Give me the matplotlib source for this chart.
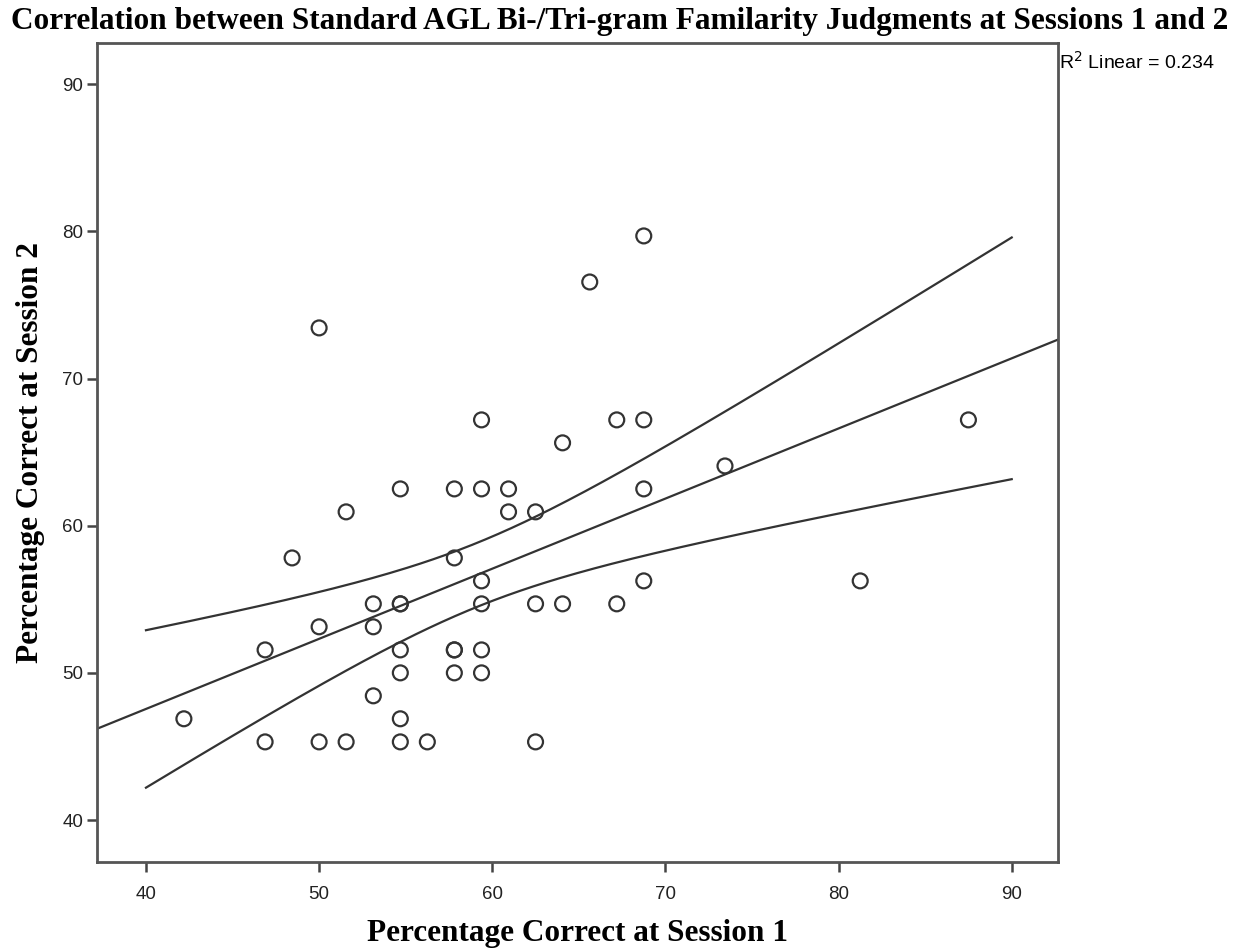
import numpy as np
import matplotlib
matplotlib.use("Agg")
import matplotlib.pyplot as plt

# Percentage correct, session 1 (x) and session 2 (y)
session1 = [42.19, 46.88, 46.88, 48.44, 50.00, 50.00, 50.00, 51.56, 51.56,
            53.13, 53.13, 53.13, 54.69, 54.69, 54.69, 54.69, 54.69, 54.69, 54.69,
            56.25, 57.81, 57.81, 57.81, 57.81, 57.81, 59.38, 59.38, 59.38, 59.38,
            59.38, 59.38, 60.94, 60.94, 62.50, 62.50, 62.50, 64.06, 64.06, 65.63,
            67.19, 67.19, 68.75, 68.75, 68.75, 68.75, 73.44, 81.25, 87.50]
session2 = [46.88, 51.56, 45.31, 57.81, 73.44, 53.13, 45.31, 60.94, 45.31,
            54.69, 53.13, 48.44, 62.50, 54.69, 54.69, 51.56, 50.00, 46.88, 45.31,
            45.31, 62.50, 57.81, 51.56, 51.56, 50.00, 67.19, 62.50, 56.25, 54.69,
            51.56, 50.00, 62.50, 60.94, 60.94, 54.69, 45.31, 65.63, 54.69, 76.56,
            67.19, 54.69, 79.69, 67.19, 62.50, 56.25, 64.06, 56.25, 67.19]

x_ticks = [40, 50, 60, 70, 80, 90]
y_ticks = [40, 50, 60, 70, 80, 90]
r2_label = "R$^2$ Linear = 0.234"

x = np.array(session1)
y = np.array(session2)
n = len(x)

# linear fit + 95% CI of the mean
slope, intercept = np.polyfit(x, y, 1)
resid = y - (slope * x + intercept)
s = np.sqrt(np.sum(resid ** 2) / (n - 2))
sxx = np.sum((x - x.mean()) ** 2)
t_crit = 2.0129  # t(0.975, 46)

xlim = (37.17, 92.7)
ylim = (37.15, 92.8)

fig = plt.figure(figsize=(12.4, 9.49), dpi=100)
ax = fig.add_axes([0.0782, 0.0917, 0.7754, 0.863])

xf = np.linspace(xlim[0], xlim[1], 200)
ax.plot(xf, slope * xf + intercept, color="#333333", lw=1.6, zorder=2)

xb = np.linspace(40, 90, 200)
yb = slope * xb + intercept
half = t_crit * s * np.sqrt(1.0 / n + (xb - x.mean()) ** 2 / sxx)
ax.plot(xb, yb + half, color="#333333", lw=1.6, zorder=2)
ax.plot(xb, yb - half, color="#333333", lw=1.6, zorder=2)

ax.scatter(x, y, s=115, facecolors="none", edgecolors="#333333",
           linewidths=1.6, zorder=3)

ax.set_xlim(xlim)
ax.set_ylim(ylim)
ax.set_xticks(x_ticks)
ax.set_yticks(y_ticks)

tick_font = ["Liberation Sans Narrow", "Liberation Sans", "DejaVu Sans"]
for lab in ax.get_xticklabels() + ax.get_yticklabels():
    lab.set_family(tick_font)
    lab.set_fontsize(13.5)
ax.tick_params(axis="both", direction="out", length=7, width=1.8,
               color="#444444", labelcolor="#222222")
ax.tick_params(axis="x", pad=10)
ax.tick_params(axis="y", pad=3)

for sp in ax.spines.values():
    sp.set_linewidth(2.0)
    sp.set_color("#555555")

ax.set_xlabel("Percentage Correct at Session 1", family="Liberation Serif",
              fontweight="bold", fontsize=22.5, labelpad=12)
ax.set_ylabel("Percentage Correct at Session 2", family="Liberation Serif",
              fontweight="bold", fontsize=22.5, labelpad=12)

fig.text(0.5, 0.977, "Correlation between Standard AGL Bi-/Tri-gram Familarity Judgments at Sessions 1 and 2",
         ha="center", va="center", family="Liberation Serif", fontweight="bold", fontsize=22.5)

fig.text(0.854, 0.935, r2_label, ha="left", va="center",
         family=["Liberation Sans", "DejaVu Sans"], fontsize=14)

fig.savefig("out.png", dpi=100, facecolor="white")
